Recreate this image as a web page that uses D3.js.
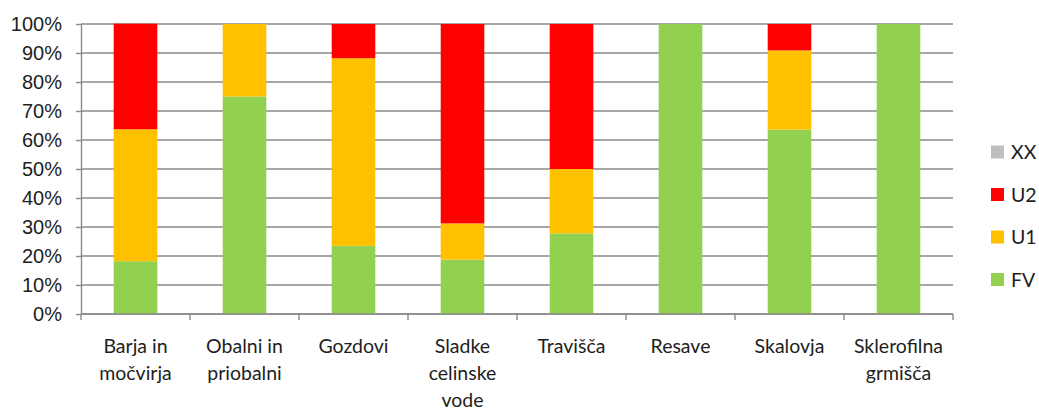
<!DOCTYPE html>
<html>
<head>
<meta charset="utf-8">
<script src="https://cdn.jsdelivr.net/npm/d3@7"></script>
<style>
  body { margin: 0; background: #fff; }
  svg { display: block; font-family: Lato, "Open Sans", sans-serif; }
</style>
</head>
<body>
<div id="chart"></div>
<script>
// habitat groups, label lines as wrapped in the original
const categories = ['Barja in močvirja', 'Obalni in priobalni', 'Gozdovi', 'Sladke celinske vode',
  'Travišča', 'Resave', 'Skalovja', 'Sklerofilna grmišča'];
const categoryLines = [['Barja in', 'močvirja'], ['Obalni in', 'priobalni'], ['Gozdovi'],
  ['Sladke', 'celinske', 'vode'], ['Travišča'], ['Resave'], ['Skalovja'], ['Sklerofilna', 'grmišča']];

// shares per status (fractions of 1)
const fv = [0.182, 0.75, 0.235, 0.1875, 0.278, 1.0, 0.636, 1.0];
const u1 = [0.455, 0.25, 0.647, 0.125, 0.222, 0, 0.273, 0];
const u2 = [0.364, 0, 0.118, 0.6875, 0.5, 0, 0.091, 0];
const xx = [0, 0, 0, 0, 0, 0, 0, 0];

const seriesKeys = ['FV', 'U1', 'U2', 'XX'];
const colors = { FV: '#92D050', U1: '#FFC000', U2: '#FF0000', XX: '#BFBFBF' };
const yTicks = [0, 0.1, 0.2, 0.3, 0.4, 0.5, 0.6, 0.7, 0.8, 0.9, 1.0];

const width = 1039, height = 411;
const plot = { left: 81, right: 953, top: 24, bottom: 314 };

const rows = categories.map((c, i) => ({ cat: c, FV: fv[i], U1: u1[i], U2: u2[i], XX: xx[i] }));
const stacked = d3.stack().keys(seriesKeys)(rows);

const svg = d3.select('#chart').append('svg')
  .attr('width', width)
  .attr('height', height);

const x = d3.scaleBand()
  .domain(categories)
  .range([plot.left, plot.right])
  .paddingInner(0.6)
  .paddingOuter(0.3);

// category slots without padding, for the tick marks between groups
const xSlot = d3.scaleBand()
  .domain(categories)
  .range([plot.left, plot.right]);

const y = d3.scaleLinear()
  .domain([0, 1])
  .range([plot.bottom, plot.top]);

// gridlines
svg.append('g')
  .selectAll('line')
  .data(yTicks)
  .join('line')
    .attr('x1', plot.left)
    .attr('x2', plot.right)
    .attr('y1', d => y(d))
    .attr('y2', d => y(d))
    .attr('stroke', '#8a8a8a')
    .attr('stroke-width', 1.4);

// bars
svg.append('g')
  .selectAll('g')
  .data(stacked)
  .join('g')
    .attr('fill', d => colors[d.key])
  .selectAll('rect')
  .data(d => d)
  .join('rect')
    .attr('x', d => x(d.data.cat))
    .attr('y', d => y(d[1]))
    .attr('width', x.bandwidth())
    .attr('height', d => y(d[0]) - y(d[1]));

// y axis
const yAxis = svg.append('g')
  .attr('transform', `translate(${plot.left},0)`)
  .call(d3.axisLeft(y).tickValues(yTicks).tickFormat(d3.format('.0%')).tickSize(5).tickSizeOuter(0).tickPadding(14));
yAxis.select('.domain').attr('stroke', '#8a8a8a').attr('stroke-width', 1.4);
yAxis.selectAll('.tick line').attr('stroke', '#8a8a8a').attr('stroke-width', 1.4);
yAxis.selectAll('text').attr('fill', '#1e1e1e').style('font-size', '20px');

// x axis line and ticks at category boundaries
const xAxis = svg.append('g');
xAxis.append('line')
  .attr('x1', plot.left).attr('x2', plot.right)
  .attr('y1', plot.bottom).attr('y2', plot.bottom)
  .attr('stroke', '#8a8a8a').attr('stroke-width', 1.4);
const bounds = categories.map(c => xSlot(c)).concat([plot.right]);
xAxis.selectAll('line.tk')
  .data(bounds)
  .join('line')
    .attr('class', 'tk')
    .attr('x1', d => d).attr('x2', d => d)
    .attr('y1', plot.bottom).attr('y2', plot.bottom + 6)
    .attr('stroke', '#8a8a8a').attr('stroke-width', 1.4);

// category labels
const labels = xAxis.selectAll('text')
  .data(categories)
  .join('text')
    .attr('text-anchor', 'middle')
    .attr('fill', '#1e1e1e')
    .style('font-size', '19.5px');
labels.each(function(d, i) {
  d3.select(this).selectAll('tspan')
    .data(categoryLines[i])
    .join('tspan')
      .attr('x', xSlot(d) + xSlot.bandwidth() / 2)
      .attr('y', (t, j) => 353 + j * 27)
      .text(t => t);
});

// legend, top to bottom reversed from stack order
const legendKeys = seriesKeys.slice().reverse();
const legend = svg.append('g')
  .selectAll('g')
  .data(legendKeys)
  .join('g')
    .attr('transform', (d, i) => `translate(991,${152 + i * 42.5})`);
legend.append('rect')
  .attr('x', 0).attr('y', -6.5)
  .attr('width', 13).attr('height', 13)
  .attr('fill', d => colors[d]);
legend.append('text')
  .attr('x', 20)
  .attr('y', 7)
  .attr('fill', '#1e1e1e')
  .style('font-size', '19.5px')
  .text(d => d);
</script>
</body>
</html>
